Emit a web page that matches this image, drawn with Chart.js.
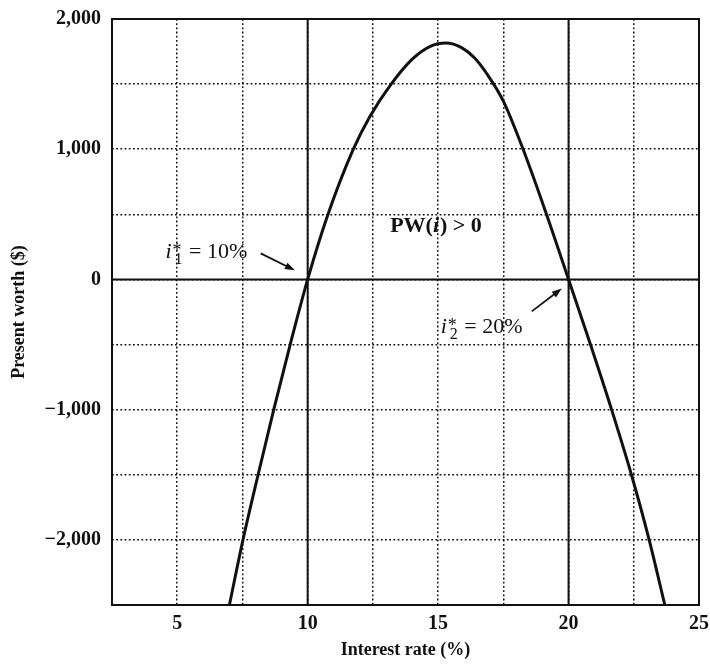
<!DOCTYPE html>
<html>
<head>
<meta charset="utf-8">
<script src="https://cdn.jsdelivr.net/npm/chart.js@4"></script>
<style>
  body { margin: 0; background: #fff; }
  canvas { display: block; }
</style>
</head>
<body>
<canvas id="chart" width="710" height="664"></canvas>
<script>
// interest rate (%) and present worth ($)
const rates = [7.0, 7.52, 8.1, 8.7, 9.33, 10, 10.78, 11.75, 12.38, 13.2, 14.0, 14.7, 15.3,
               15.9, 16.4, 16.9, 17.5, 18.2, 19.12, 20, 20.84, 21.65, 22.41, 23.09, 23.69];
const presentWorth = [-2500, -2000, -1500, -1000, -500, 0, 500, 1000, 1250, 1500, 1690, 1790, 1815,
                      1780, 1700, 1570, 1370, 1030, 520, 0, -500, -1000, -1500, -2000, -2500];
const rootRates = [10, 20];
const xRange = [2.5, 25];
const yRange = [-2500, 2000];

const serif = '"Liberation Serif", "DejaVu Serif", serif';
const black = '#111';

function fmt(v) {
  const s = Math.abs(v).toLocaleString('en-US');
  return v < 0 ? '\u2212' + s : s;
}

const datasets = [];
// solid lines at the two roots and at PW = 0
rootRates.forEach(r => {
  datasets.push({
    data: [{x: r, y: yRange[0]}, {x: r, y: yRange[1]}],
    borderColor: black, borderWidth: 2, pointRadius: 0
  });
});
datasets.push({
  data: [{x: xRange[0], y: 0}, {x: xRange[1], y: 0}],
  borderColor: black, borderWidth: 2, pointRadius: 0
});
datasets.push({
  data: rates.map((r, i) => ({x: r, y: presentWorth[i]})),
  borderColor: black, borderWidth: 3, pointRadius: 0,
  cubicInterpolationMode: 'monotone'
});

function arrow(ctx, x1, y1, x2, y2) {
  const a = Math.atan2(y2 - y1, x2 - x1);
  ctx.beginPath();
  ctx.moveTo(x1, y1);
  ctx.lineTo(x2 - 7 * Math.cos(a), y2 - 7 * Math.sin(a));
  ctx.lineWidth = 1.8;
  ctx.stroke();
  ctx.beginPath();
  ctx.moveTo(x2, y2);
  ctx.lineTo(x2 - 10 * Math.cos(a) + 3.5 * Math.sin(a), y2 - 10 * Math.sin(a) - 3.5 * Math.cos(a));
  ctx.lineTo(x2 - 10 * Math.cos(a) - 3.5 * Math.sin(a), y2 - 10 * Math.sin(a) + 3.5 * Math.cos(a));
  ctx.closePath();
  ctx.fill();
}

function rootLabel(ctx, x, y, sub, rest) {
  ctx.textAlign = 'left';
  ctx.textBaseline = 'alphabetic';
  ctx.font = 'italic 22px ' + serif;
  ctx.fillText('i', x, y);
  let cx = x + ctx.measureText('i').width + 1;
  ctx.font = '18px ' + serif;
  ctx.fillText('*', cx, y - 2);
  const ws = ctx.measureText('*').width;
  ctx.font = '16px ' + serif;
  ctx.fillText(sub, cx + 2, y + 6);
  cx += Math.max(ws, ctx.measureText(sub).width + 2) + 1;
  ctx.font = '22px ' + serif;
  ctx.fillText(' = ' + rest, cx, y);
}

const extras = {
  id: 'extras',
  afterDraw(chart) {
    const {ctx, chartArea: a, scales: {x, y}} = chart;
    ctx.save();
    ctx.strokeStyle = black;
    ctx.fillStyle = black;
    ctx.lineWidth = 2;
    ctx.strokeRect(a.left, a.top, a.right - a.left, a.bottom - a.top);

    // PW(i) > 0
    ctx.textBaseline = 'middle';
    const f = 'bold 22px ' + serif, fi = 'bold italic 22px ' + serif;
    const px = x.getPixelForValue(14.9), py = y.getPixelForValue(410);
    const p1 = 'PW(', p2 = 'i', p3 = ') > 0';
    ctx.font = f;
    const w1 = ctx.measureText(p1).width, w3 = ctx.measureText(p3).width;
    ctx.font = fi;
    const w2 = ctx.measureText(p2).width;
    const sx = px - (w1 + w2 + w3) / 2;
    ctx.textAlign = 'left';
    ctx.font = f;
    ctx.fillText(p1, sx, py);
    ctx.font = fi;
    ctx.fillText(p2, sx + w1, py);
    ctx.font = f;
    ctx.fillText(p3, sx + w1 + w2 + 1, py);

    rootLabel(ctx, x.getPixelForValue(4.55), y.getPixelForValue(165), '1', '10%');
    arrow(ctx, x.getPixelForValue(8.2), y.getPixelForValue(200), x.getPixelForValue(9.51), y.getPixelForValue(70));
    rootLabel(ctx, x.getPixelForValue(15.1), y.getPixelForValue(-410), '2', '20%');
    arrow(ctx, x.getPixelForValue(18.59), y.getPixelForValue(-245), x.getPixelForValue(19.74), y.getPixelForValue(-70));
    ctx.restore();
  }
};

new Chart(document.getElementById('chart'), {
  type: 'line',
  data: { datasets: datasets },
  options: {
    responsive: false,
    animation: false,
    layout: { padding: { top: 19, right: 11, left: 0, bottom: 0 } },
    plugins: { legend: { display: false }, tooltip: { enabled: false } },
    scales: {
      x: {
        type: 'linear',
        min: xRange[0], max: xRange[1],
        afterFit(s) { s.height = 59; s.paddingLeft = 0; s.paddingRight = 0; },
        border: { display: false, dash: [1.8, 2.4] },
        grid: { color: '#111', lineWidth: 1.5, drawTicks: false },
        ticks: {
          stepSize: 2.5, autoSkip: false, padding: 7, color: black,
          font: { family: serif, size: 20, weight: 'bold' },
          callback: v => (v % 5 === 0 ? String(v) : '')
        },
        title: {
          display: true, text: 'Interest rate (%)', color: black,
          font: { family: serif, size: 18, weight: 'bold' },
          padding: { top: 0, bottom: 3 }
        }
      },
      y: {
        type: 'linear',
        min: yRange[0], max: yRange[1],
        afterFit(s) { s.width = 112; s.paddingTop = 0; s.paddingBottom = 0; },
        border: { display: false, dash: [1.8, 2.4] },
        grid: { color: '#111', lineWidth: 1.5, drawTicks: false },
        ticks: {
          stepSize: 500, autoSkip: false, padding: 11, color: black,
          font: { family: serif, size: 20, weight: 'bold' },
          callback: v => (v % 1000 === 0 ? fmt(v) : '')
        },
        title: {
          display: true, text: 'Present worth ($)', color: black,
          font: { family: serif, size: 18, weight: 'bold' },
          padding: { top: 9, bottom: 0 }
        }
      }
    }
  },
  plugins: [extras]
});
</script>
</body>
</html>
